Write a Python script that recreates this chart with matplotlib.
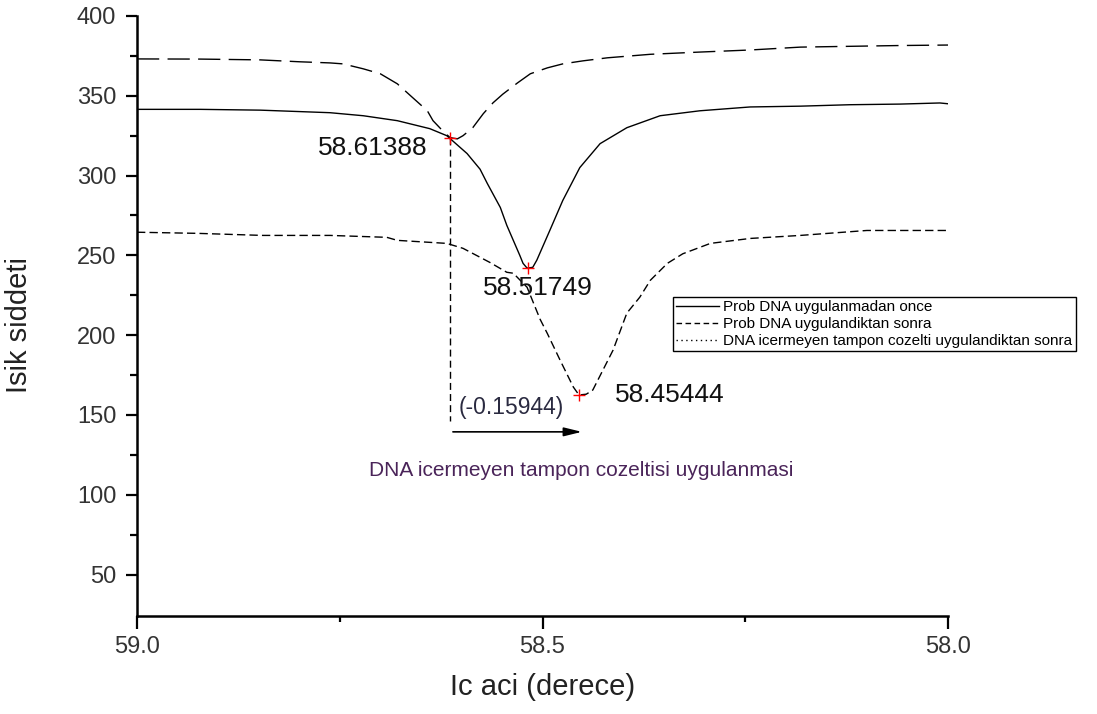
import matplotlib
matplotlib.use("Agg")
import matplotlib.pyplot as plt
from matplotlib.lines import Line2D
from matplotlib.ticker import FixedLocator

plt.rcParams['font.family'] = ['Liberation Sans', 'DejaVu Sans']

# angle (degrees) and intensity
x_once = [59.000, 58.922, 58.848, 58.762, 58.721, 58.679, 58.639, 58.618, 58.593,
          58.577, 58.568, 58.552, 58.544, 58.536, 58.528, 58.524, 58.519, 58.512,
          58.507, 58.491, 58.475, 58.454, 58.429, 58.396, 58.355, 58.306, 58.244,
          58.182, 58.121, 58.059, 58.010, 58.000]
y_once = [341.5, 341.5, 341.0, 339.4, 337.5, 334.4, 329.4, 325.0, 313.8,
          304.0, 295.0, 280.0, 268.8, 259.4, 250.0, 245.0, 242.0, 242.5,
          247.0, 265.6, 284.4, 305.0, 320.0, 330.0, 337.5, 340.6, 343.0,
          343.5, 344.4, 344.8, 345.5, 345.0]

x_sonra = [59.000, 58.922, 58.848, 58.799, 58.762, 58.746, 58.721, 58.700, 58.679,
           58.660, 58.642, 58.635, 58.623, 58.614, 58.605, 58.598, 58.586, 58.573,
           58.561, 58.549, 58.531, 58.515, 58.494, 58.475, 58.450, 58.420, 58.367,
           58.306, 58.244, 58.182, 58.121, 58.059, 58.000]
y_sonra = [373.1, 373.0, 372.5, 371.3, 370.6, 370.0, 366.9, 363.8, 357.5,
           348.8, 340.6, 334.4, 328.0, 323.8, 323.0, 325.0, 330.0, 338.8,
           345.6, 351.0, 358.0, 363.8, 367.5, 370.0, 371.9, 373.8, 376.0,
           377.4, 378.7, 380.5, 381.0, 381.5, 381.8]

x_tampon = [59.000, 58.926, 58.845, 58.762, 58.692, 58.679, 58.618, 58.598, 58.565,
            58.544, 58.536, 58.519, 58.503, 58.494, 58.478, 58.462, 58.455, 58.446,
            58.438, 58.413, 58.396, 58.380, 58.367, 58.346, 58.327, 58.293, 58.244,
            58.182, 58.100, 58.000]
y_tampon = [264.5, 263.8, 262.5, 262.5, 261.3, 259.4, 257.5, 254.4, 245.6,
            239.4, 238.8, 230.0, 210.0, 201.0, 184.0, 167.5, 162.5, 163.0,
            165.6, 190.6, 213.8, 223.8, 234.4, 245.0, 251.0, 257.5, 260.6,
            262.5, 265.6, 265.6]

labels = ['Prob DNA uygulanmadan once',
          'Prob DNA uygulandiktan sonra',
          'DNA icermeyen tampon cozelti uygulandiktan sonra']

peak_x = [58.61388, 58.51749, 58.45444]
peak_y = [323.8, 242.0, 162.5]
peak_text = ['58.61388', '58.51749', '58.45444']
shift_text = '(-0.15944)'

fig = plt.figure(figsize=(10.97, 7.14), dpi=100)
ax = fig.add_axes([137 / 1097, 1 - 616 / 714, 811 / 1097, 600 / 714])

ax.plot(x_once, y_once, color='black', lw=1.0)
ax.plot(x_sonra, y_sonra, color='black', lw=1.0, linestyle=(0, (16, 6)))
ax.plot(x_tampon, y_tampon, color='black', lw=1.0, linestyle=(0, (6, 3)))

# vertical guide from the first crossing point down to the arrow
ax.plot([peak_x[0], peak_x[0]], [peak_y[0], 146], color='black', lw=1.0,
        linestyle=(0, (5, 3)))
ax.plot(peak_x, peak_y, linestyle='none', marker='+', color='red',
        markersize=9, mew=1.0)

ax.annotate('', xy=(58.448, 139.4), xytext=(peak_x[0], 139.4),
            arrowprops=dict(arrowstyle='-|>,head_length=0.9,head_width=0.22',
                            color='black', lw=1.2, mutation_scale=12))

ax.text(58.642, 317.5, peak_text[0], fontsize=19, ha='right', va='center', color='#111111')
ax.text(58.506, 229.4, peak_text[1], fontsize=19, ha='center', va='center', color='#111111')
ax.text(58.411, 162.5, peak_text[2], fontsize=19, ha='left', va='center', color='#111111')
ax.text(58.604, 154.4, shift_text, fontsize=16.5, ha='left', va='center', color='#2a2a40')
ax.text(58.452, 115, 'DNA icermeyen tampon cozeltisi uygulanmasi', fontsize=15,
        ha='center', va='center', color='#4a2459')

ax.set_xlim(59.0, 58.0)
ax.set_ylim(24, 400)

ax.xaxis.set_major_locator(FixedLocator([59.0, 58.5, 58.0]))
ax.xaxis.set_minor_locator(FixedLocator([58.75, 58.25]))
ax.yaxis.set_major_locator(FixedLocator([50, 100, 150, 200, 250, 300, 350, 400]))
ax.yaxis.set_minor_locator(FixedLocator([75, 125, 175, 225, 275, 325, 375]))
ax.set_xticklabels(['59.0', '58.5', '58.0'])

for side in ['top', 'right']:
    ax.spines[side].set_visible(False)
for side in ['left', 'bottom']:
    ax.spines[side].set_linewidth(1.8)

ax.tick_params(axis='both', which='both', direction='out', width=1.6,
               labelsize=17, labelcolor='#333333')
ax.tick_params(axis='y', which='major', length=8, pad=7)
ax.tick_params(axis='y', which='minor', length=5)
ax.tick_params(axis='x', which='major', length=9.5, pad=5)
ax.tick_params(axis='x', which='minor', length=4.5)

ax.set_xlabel('Ic aci (derece)', fontsize=21, color='#222222')
ax.set_ylabel('Isik siddeti', fontsize=21, color='#222222')
ax.xaxis.set_label_coords(0.5, -0.095)
ax.yaxis.set_label_coords(-0.128, 0.485)

handles = [Line2D([], [], color='black', lw=1.0),
           Line2D([], [], color='black', lw=1.0, linestyle=(0, (4, 2.5))),
           Line2D([], [], color='black', lw=1.0, linestyle=(0, (1, 2.5)))]
leg = fig.legend(handles, labels, loc='upper left',
                 bbox_to_anchor=(673 / 1097, 1 - 297 / 714),
                 fontsize=11, frameon=True, fancybox=False, framealpha=1,
                 edgecolor='black', borderpad=0.2, labelspacing=0.2,
                 handlelength=2.8, handletextpad=0.3, borderaxespad=0)
leg.get_frame().set_linewidth(1.0)

fig.savefig('out.png', dpi=100)
